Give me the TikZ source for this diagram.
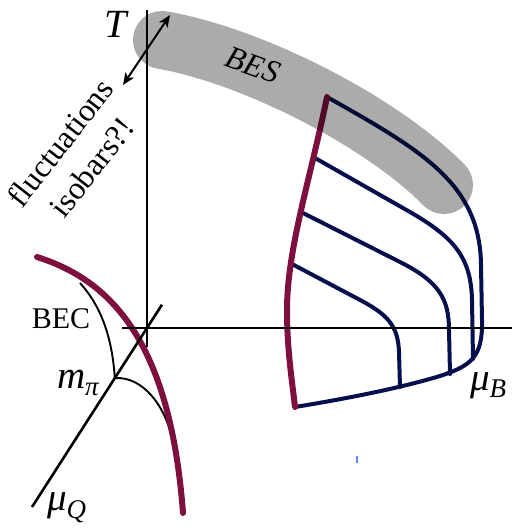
\documentclass[tikz,border=0pt]{standalone}
\usepackage{fontspec}
\setmainfont{Liberation Serif}
\usetikzlibrary{arrows.meta,calc}
\definecolor{maroonc}{RGB}{125,16,62}
\definecolor{navyc}{RGB}{5,15,78}
\definecolor{tickblue}{RGB}{110,130,230}
\tikzset{
  axisline/.style={black, line width=2.6pt},
  thinline/.style={black, line width=1.9pt},
  isobar/.style={navyc, line width=4pt, line cap=round, line join=round},
  crossline/.style={maroonc, line width=6pt, line cap=round, line join=round},
  band/.style={black, opacity=0.33, line width=58pt, line cap=round},
  lbl/.style={inner sep=0pt, outer sep=0pt}
}
\begin{document}
\begin{tikzpicture}[x=1pt,y=-1pt]
\useasboundingbox (0,0) rectangle (512,528);
% coordinates
\coordinate (O) at (147,328);
\coordinate (Ttop) at (147,10);
\coordinate (Tbot) at (147,347);
\coordinate (Bleft) at (122,328);
\coordinate (Bright) at (512,328);
\coordinate (Qend) at (32,507);
\coordinate (Qtop) at ($(O)!-0.13!(Qend)$);
\coordinate (mpi) at ($(O)!0.28!(Qend)$);
\coordinate (cep) at (327,97);
\coordinate (cbot) at (295,407);
\coordinate (arrA) at (123,85);
\coordinate (arrB) at (170,15);

% isobars
\draw[isobar] (cep) .. controls (425,152) and (480,185) .. (481,265) -- (482,320)
   .. controls (483,358) and (470,366) .. (440,376)
   .. controls (400,388) and (350,398) .. (cbot);
\draw[isobar] (315,158) -- (410,212) .. controls (455,238) and (471,258) .. (472,300) -- (473,359);
\draw[isobar] (303,213) -- (400,262) .. controls (440,282) and (449,300) .. (449,330) -- (450,374);
\draw[isobar] (292,264) -- (362,301) .. controls (390,316) and (398,328) .. (399,352) -- (400,387);
% crossover line (right)
\draw[crossline] (cep) .. controls (310,180) and (287,250) .. (287,310)
   .. controls (287,350) and (292,380) .. (cbot);

% left part: BEC curves
\draw[thinline] (80,283) .. controls (100,305) and (112,335) .. (mpi);
\draw[thinline] (mpi) .. controls (142,376) and (166,405) .. (173,443);
\draw[crossline] (37,257) .. controls (110,280) and (170,340) .. (183,513);

% BES band
\draw[band] (162,40) .. controls (250,55) and (380,120) .. (444,185);

% axes
\draw[axisline] (Ttop) -- (Tbot);
\draw[axisline] (Bleft) -- (Bright);
\draw[axisline] (Qend) -- (Qtop);

% arrow
\draw[black, line width=2pt, {Stealth[length=12pt,width=10pt,inset=3pt]}-{Stealth[length=12pt,width=10pt,inset=3pt]}] (arrA) -- (arrB);

% labels
\node[lbl, anchor=base west] (Tl) at (104,37) {\fontsize{40}{40}\selectfont\itshape T};
\node[lbl, rotate=-20] (BES) at (253,65) {\fontsize{32}{32}\selectfont\itshape BES};
\node[lbl, rotate=52, align=center, font=\fontsize{32}{40}\selectfont] (fl) at (76,155) {fluctuations\\isobars?!};
\node[lbl] (BEC) at (61,318.5) {\fontsize{30}{30}\selectfont BEC};
\node[lbl, anchor=base west] (mpil) at (57,388) {\fontsize{39}{39}\selectfont\itshape m\raisebox{-7pt}{\fontsize{27}{27}\selectfont π}};
\node[lbl, anchor=base west] (muQ) at (47,510) {\fontsize{39}{39}\selectfont\itshape μ\raisebox{-8pt}{\fontsize{27}{27}\selectfont Q}};
\node[lbl, anchor=base west] (muB) at (470,390) {\fontsize{39}{39}\selectfont\itshape μ\raisebox{-7pt}{\fontsize{27}{27}\selectfont B}};

% small blue tick
\draw[tickblue, line width=2pt] (357,456) -- (357,463);
\end{tikzpicture}
\end{document}
